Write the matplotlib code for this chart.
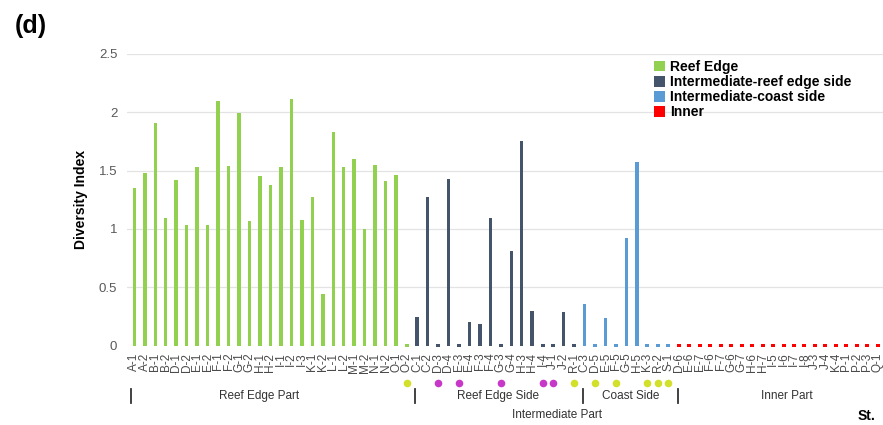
import numpy as np
import matplotlib
matplotlib.use('Agg')
import matplotlib.pyplot as plt
from matplotlib.patches import Patch

plt.rcParams['font.family'] = ['Liberation Sans', 'DejaVu Sans']

# stations per group
reef_edge = ['A-1', 'A-2', 'B-1', 'B-2', 'D-1', 'D-2', 'E-1', 'E-2', 'F-1', 'F-2',
             'G-1', 'G-2', 'H-1', 'H-2', 'I-1', 'I-2', 'I-3', 'K-1', 'K-2', 'L-1',
             'L-2', 'M-1', 'M-2', 'N-1', 'N-2', 'O-1', 'O-2']
inter_reef = ['C-1', 'C-2', 'D-3', 'D-4', 'E-3', 'E-4', 'F-3', 'F-4', 'G-3', 'G-4',
              'H-3', 'H-4', 'I-4', 'J-1', 'J-2', 'R-1']
inter_coast = ['C-3', 'D-5', 'E-5', 'F-5', 'G-5', 'H-5', 'K-3', 'R-2', 'S-1']
inner = ['D-6', 'E-6', 'E-7', 'F-6', 'F-7', 'G-6', 'G-7', 'H-6', 'H-7', 'I-5',
         'I-6', 'I-7', 'I-8', 'J-3', 'J-4', 'K-4', 'P-1', 'P-2', 'P-3', 'Q-1']

# diversity index
reef_edge_val = [1.35, 1.48, 1.91, 1.09, 1.42, 1.03, 1.53, 1.03, 2.10, 1.54,
                 1.99, 1.07, 1.45, 1.38, 1.53, 2.11, 1.08, 1.27, 0.44, 1.83,
                 1.53, 1.60, 1.00, 1.55, 1.41, 1.46, 0.0]
inter_reef_val = [0.25, 1.27, 0.0, 1.43, 0.0, 0.20, 0.19, 1.09, 0.0, 0.81,
                  1.75, 0.30, 0.0, 0.0, 0.29, 0.0]
inter_coast_val = [0.36, 0.0, 0.24, 0.0, 0.92, 1.57, 0.0, 0.0, 0.0]
inner_val = [0.0, 0.0, 0.0, 0.0, 0.0, 0.0, 0.0, 0.0, 0.0, 0.0,
             0.0, 0.0, 0.0, 0.0, 0.0, 0.0, 0.0, 0.0, 0.0, 0.0]

# marked stations under the axis
yellow_marks = ['O-2', 'R-1', 'D-5', 'F-5', 'K-3', 'R-2', 'S-1']
magenta_marks = ['D-3', 'E-3', 'G-3', 'I-4', 'J-1']

groups = [
    ('Reef Edge', reef_edge, reef_edge_val, '#92d050'),
    ('Intermediate-reef edge side', inter_reef, inter_reef_val, '#44546a'),
    ('Intermediate-coast side', inter_coast, inter_coast_val, '#5b9bd5'),
    ('Inner', inner, inner_val, '#ff0000'),
]

fig = plt.figure(figsize=(8.83, 4.25), dpi=100)
ax = fig.add_axes([0.1438, 0.1866, 0.8562, 0.6866])

labels = []
handles = []
start = 0
for name, st, vals, col in groups:
    x = np.arange(start, start + len(st))
    v = np.array(vals)
    ax.bar(x[v > 0], v[v > 0], width=0.33, color=col, zorder=3)
    ax.scatter(x[v == 0], v[v == 0], marker='s', s=10, color=col, linewidths=0, zorder=3)
    labels += st
    handles.append(Patch(facecolor=col, label=name))
    start += len(st)

ax.set_xlim(-0.7, 71.5)
ax.set_ylim(0, 2.5)
ax.set_yticks([0, 0.5, 1, 1.5, 2, 2.5])
ax.set_yticklabels(['0', '0.5', '1', '1.5', '2', '2.5'])
ax.set_xticks(np.arange(len(labels)))
ax.set_xticklabels(labels, rotation=90, fontsize=8.5, color='#4a4a4a')
ax.tick_params(axis='x', length=0, pad=5)
ax.tick_params(axis='y', length=0, pad=7, labelsize=9.5, labelcolor='#595959')
for y in [0.5, 1, 1.5, 2, 2.5]:
    ax.axhline(y, color='#e3e3e3', lw=0.9, zorder=0)
for s in ax.spines.values():
    s.set_visible(False)

ax.set_ylabel('Diversity Index', fontsize=10, fontweight='bold', labelpad=8)

# marks below station names
trans = ax.get_xaxis_transform()
for lst, col in [(yellow_marks, '#d2e02a'), (magenta_marks, '#c838c8')]:
    xs = [labels.index(s) for s in lst]
    ax.scatter(xs, [-0.128] * len(xs), s=30, color=col, linewidths=0,
               transform=trans, clip_on=False, zorder=4)

# part brackets
for xb in [-0.35, 26.8, 42.85, 51.9]:
    ax.plot([xb, xb], [-0.15, -0.195], color='#333333', lw=1.3,
            transform=trans, clip_on=False)
part_kw = dict(transform=trans, ha='center', va='center', fontsize=8.5, color='#333333')
ax.text(11.9, -0.174, 'Reef Edge Part', **part_kw)
ax.text(34.7, -0.174, 'Reef Edge Side', **part_kw)
ax.text(47.4, -0.174, 'Coast Side', **part_kw)
ax.text(62.3, -0.174, 'Inner Part', **part_kw)
ax.text(40.4, -0.237, 'Intermediate Part', **part_kw)

fig.text(0.981, 0.021, 'St.', fontsize=10, fontweight='bold', ha='center', va='center')
fig.text(0.035, 0.94, '(d)', fontsize=18, fontweight='bold', ha='center', va='center')

ax.legend(handles=handles, loc='upper left', bbox_to_anchor=(0.68, 1.022),
          frameon=False, handlelength=0.8, handleheight=0.8,
          handletextpad=0.4, labelspacing=0.08, prop={'weight': 'bold', 'size': 10})

fig.savefig('out.png', dpi=100)
